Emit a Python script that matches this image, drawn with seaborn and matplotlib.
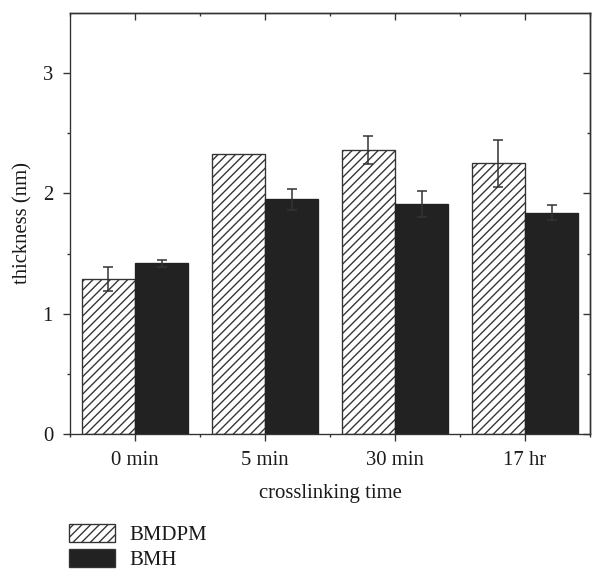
import numpy as np
import pandas as pd
import matplotlib
matplotlib.use('Agg')
import matplotlib.pyplot as plt
import matplotlib.patches as mpatches
import seaborn as sns

# --- Data ---
times = ['0 min', '5 min', '30 min', '17 hr']
bmdpm = [1.29, 2.33, 2.36, 2.25]
bmdpm_err = [0.10, np.nan, 0.115, 0.195]
bmh = [1.42, 1.95, 1.91, 1.84]
bmh_err = [0.03, 0.085, 0.11, 0.06]
samples = ['BMDPM', 'BMH']

df = pd.DataFrame({
    'time': times * 2,
    'thickness': bmdpm + bmh,
    'sample': ['BMDPM'] * len(times) + ['BMH'] * len(times),
})

DPI = 130
EDGE = '#333333'
DARK = '#222222'
FS = 11.5

sns.set_style('white')
plt.rcParams['font.family'] = ['Liberation Serif', 'DejaVu Serif']
plt.rcParams['hatch.linewidth'] = 0.75
plt.rcParams['axes.edgecolor'] = EDGE

fig = plt.figure(figsize=(592 / DPI, 571 / DPI), dpi=DPI)
ax = fig.add_axes([70 / 592, 1 - 434 / 571, 520 / 592, (434 - 13) / 571])

sns.barplot(data=df, x='time', y='thickness', hue='sample', order=times,
            hue_order=samples, palette=['white', DARK], saturation=1,
            width=0.82, errorbar=None, legend=False, ax=ax,
            edgecolor=EDGE, linewidth=0.75)

hatched, solid = ax.containers[0], ax.containers[1]
for bar in hatched:
    bar.set_hatch('/////')
    bar.set_edgecolor(EDGE)
for bar in solid:
    bar.set_facecolor(DARK)
    bar.set_edgecolor(DARK)

# error bars at the centres of the drawn bars
for cont, vals, errs in [(hatched, bmdpm, bmdpm_err), (solid, bmh, bmh_err)]:
    xs = [b.get_x() + b.get_width() / 2 for b in cont]
    ax.errorbar(xs, vals, yerr=errs, fmt='none', ecolor='#333333',
                elinewidth=0.85, capsize=2.6, capthick=0.85, zorder=5)

ax.set_xlim(-0.5, len(times) - 0.5)
ax.set_ylim(0, 3.5)
ax.set_yticks([0, 1, 2, 3])
ax.set_yticks(np.arange(0.5, 3.5, 1.0), minor=True)
ax.set_xticks(np.arange(-0.5, len(times), 1.0), minor=True)

tick_kw = dict(colors=EDGE, labelcolor='#1a1a1a', width=0.75)
ax.tick_params(which='major', direction='out', length=3.9, labelsize=FS,
               bottom=True, left=True, **tick_kw)
ax.tick_params(which='minor', direction='out', length=1.9,
               bottom=True, left=True, **tick_kw)
ax.tick_params(axis='x', which='major', pad=5.5)
ax.tick_params(axis='y', which='major', pad=5.5)

# mirrored ticks pointing inward on top and right
top = ax.secondary_xaxis('top')
top.set_xticks(range(len(times)))
top.set_xticks(np.arange(-0.5, len(times), 1.0), minor=True)
top.tick_params(which='major', direction='in', length=3.9, labeltop=False, **tick_kw)
top.tick_params(which='minor', direction='in', length=1.9, **tick_kw)
right = ax.secondary_yaxis('right')
right.set_yticks([0, 1, 2, 3])
right.set_yticks(np.arange(0.5, 3.5, 1.0), minor=True)
right.tick_params(which='major', direction='in', length=3.9, labelright=False, **tick_kw)
right.tick_params(which='minor', direction='in', length=1.9, **tick_kw)

for sp in ax.spines.values():
    sp.set_linewidth(0.75)
    sp.set_color(EDGE)

ax.set_xlabel('crosslinking time', fontsize=FS, color='#1a1a1a', labelpad=8)
ax.set_ylabel('thickness (nm)', fontsize=FS, color='#1a1a1a', labelpad=5.5)

handles = [
    mpatches.Patch(facecolor='white', edgecolor=EDGE, hatch='/////', linewidth=0.75, label='BMDPM'),
    mpatches.Patch(facecolor=DARK, edgecolor=EDGE, linewidth=0.75, label='BMH'),
]
fig.legend(handles=handles, loc='upper left', bbox_to_anchor=(69 / 592, 1 - 524 / 571),
           frameon=False, fontsize=FS, handlelength=2.2, handleheight=0.95,
           handletextpad=0.7, labelspacing=0.18, borderpad=0, borderaxespad=0,
           labelcolor='#1a1a1a')

plt.savefig('out.png', dpi=DPI)
plt.close()
